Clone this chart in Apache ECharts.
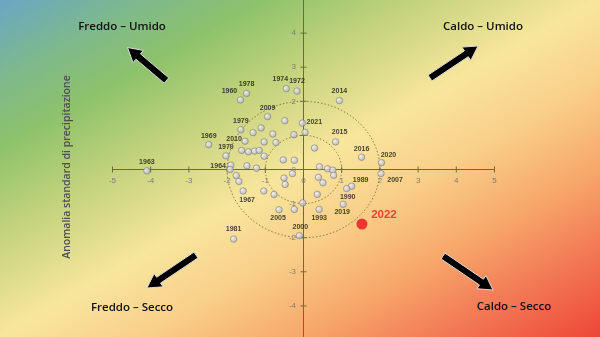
<!DOCTYPE html>
<html><head><meta charset="utf-8">
<script src="https://cdn.jsdelivr.net/npm/echarts@6.0.0/dist/echarts.min.js"></script>
<style>html,body{margin:0;padding:0;background:#fff;overflow:hidden}#c{position:absolute;left:0;top:-1px;width:600px;height:341px}</style>
</head><body><div id="c"></div>
<script>
// ---- data (standardised anomalies: temperature on x, precipitation on y) ----
const labeledYears = [1960,1978,1974,1972,2014,2009,2021,1979,2015,1969,2010,1970,2016,2020,1963,1964,2007,1989,1990,1967,2019,2005,1993,2000,1981];
const labeledTemp  = [-1.65,-1.49,-0.45,-0.17,0.94,-0.94,-0.03,-1.64,0.84,-2.48,-1.53,-2.03,1.52,2.04,-4.10,-1.92,2.03,1.26,1.13,-1.58,1.04,-0.64,0.41,-0.11,-1.83];
const labeledPrec  = [2.04,2.23,2.37,2.30,2.02,1.55,1.36,1.17,0.81,0.73,0.83,0.40,0.36,0.20,-0.04,0.00,-0.12,-0.49,-0.56,-0.63,-1.02,-1.18,-1.17,-1.94,-2.04];
const otherTemp = [-0.49,0.04,-0.25,-1.11,-1.32,-0.80,-0.72,-1.03,0.29,-1.62,-1.44,-1.28,-1.16,-1.03,-0.53,-0.24,-1.90,-1.48,-1.23,0.42,0.63,0.77,0.79,0.39,0.51,-0.29,-0.51,-0.48,-1.76,-1.69,-1.04,-0.77,0.36,-0.02,-0.24];
const otherPrec = [1.43,1.09,1.02,1.22,1.08,1.04,0.79,0.81,0.63,0.56,0.52,0.54,0.56,0.39,0.28,0.27,0.13,0.11,0.04,0.08,0.02,-0.02,-0.17,-0.23,-0.39,-0.12,-0.25,-0.44,-0.18,-0.35,-0.63,-0.73,-0.73,-0.98,-1.17];
const highlightYear = [2022];
const highlightTemp = [1.53];
const highlightPrec = [-1.60];
const ringRadii = [1, 2];
const xTickValues = [-5,-4,-3,-2,-1,0,1,2,3,4,5];
const yTickValues = [-4,-3,-2,-1,0,1,2,3,4];
const quadrantNames = ['Freddo \u2013 Umido','Caldo \u2013 Umido','Freddo \u2013 Secco','Caldo \u2013 Secco'];
const yTitle = 'Anomalia standard di precipitazione';

// ---- layout / style (not data) ----
const labelOffsets = {
  1960:[-11,-9],1978:[0,-9],1974:[-6,-10],1972:[0,-10],2014:[0,-10],2009:[0,-9],2021:[12,-1],
  1979:[0,-9],2015:[4,-10],1969:[0,-9],2010:[-11,-2],1970:[0,-9],2016:[0,-8],2020:[7,-8],
  1963:[0,-9],1964:[-12,-3],2007:[14,6],1989:[9,-6],1990:[1,8],1967:[4,9],2019:[-1,8],
  2005:[-1,8],1993:[0,9],2000:[1,-9],1981:[0,-10]
};
const pointStyle = {
  color:{type:'radial',x:0.35,y:0.35,r:0.75,colorStops:[{offset:0,color:'#f4f4f6'},{offset:1,color:'#a6a6b0'}]},
  borderColor:'#767680',borderWidth:0.7
};
const axisColor = '#6f6a3c';
const tickFont = {fontSize:8,fill:'#7d7d7d',fontFamily:'Liberation Sans'};
const DY = 1; // container is shifted up by 1px

function arrow(tail, tip){
  const sw=7, hw=16, hl=14;
  const t=[tail[0],tail[1]+DY], h=[tip[0],tip[1]+DY];
  const dx=h[0]-t[0], dy=h[1]-t[1], L=Math.hypot(dx,dy);
  const ux=dx/L, uy=dy/L, px=-uy, py=ux;
  const bx=h[0]-ux*hl, by=h[1]-uy*hl;
  const pts=[
    [t[0]+px*sw/2, t[1]+py*sw/2],[bx+px*sw/2, by+py*sw/2],[bx+px*hw/2, by+py*hw/2],
    h,[bx-px*hw/2, by-py*hw/2],[bx-px*sw/2, by-py*sw/2],[t[0]-px*sw/2, t[1]-py*sw/2]
  ];
  return {type:'polygon',z:50,silent:true,shape:{points:pts},style:{fill:'#000',stroke:'#dcdcdc',lineWidth:1}};
}
function qText(txt,x,y){
  return {type:'text',z:50,silent:true,x:x,y:y+DY,style:{text:txt,fontSize:11.5,fontWeight:600,fontFamily:'Open Sans',fill:'#111',align:'center',verticalAlign:'middle'}};
}

const chart = echarts.init(document.getElementById('c'), null, {renderer:'canvas'});

const labeledData = labeledYears.map((y,i)=>({
  value:[labeledTemp[i], labeledPrec[i], y],
  label:{show:true, formatter:String(y), offset:labelOffsets[y]||[0,-9]}
}));

// crossing tick marks + tick labels drawn through the axis scales
const tickData = xTickValues.map(v=>[v,0,0]).concat(yTickValues.map(v=>[0,v,1]));

const option = {
  animation:false,
  graphic:[
    {type:'rect',z:-100,silent:true,shape:{x:0,y:0,width:600,height:341},
     style:{fill:{type:'linear',global:true,x:0,y:0,x2:287.7,y2:512.3,colorStops:[
       {offset:0,color:'#69a6c6'},{offset:0.12,color:'#7db98c'},{offset:0.22,color:'#8dc26b'},
       {offset:0.35,color:'#c3d37c'},{offset:0.5,color:'#f8e69d'},{offset:0.62,color:'#f9cf89'},
       {offset:0.75,color:'#f7a76a'},{offset:0.88,color:'#f27452'},{offset:1,color:'#ee4738'}]}}},
    arrow([166.5,80.5],[127.5,47.5]),
    arrow([430,78],[478,46]),
    arrow([196,255],[147,288]),
    arrow([443,256],[493,290]),
    qText(quadrantNames[0],122,27),
    qText(quadrantNames[1],483,27),
    qText(quadrantNames[2],132,308),
    qText(quadrantNames[3],514,307),
    {type:'text',z:50,silent:true,x:67,y:167+DY,rotation:Math.PI/2,style:{text:yTitle,fontSize:10.5,fontWeight:600,fontFamily:'Open Sans',fill:'#4f4f4f',align:'center',verticalAlign:'middle'}}
  ],
  grid:{left:112.5,right:105.5,top:0,bottom:0,containLabel:false,outerBoundsMode:'none'},
  xAxis:{type:'value',min:-5,max:5,interval:1,splitLine:{show:false},
     axisLine:{onZero:true,lineStyle:{color:axisColor,width:1}},
     axisTick:{show:false},axisLabel:{show:false}},
  yAxis:{type:'value',min:-5,max:5,interval:1,splitLine:{show:false},
     axisLine:{onZero:true,lineStyle:{color:axisColor,width:1}},
     axisTick:{show:false},axisLabel:{show:false}},
  series:[
    {type:'custom',clip:false,silent:true,z:1,
     data:ringRadii.map(r=>[r,0]),encode:{x:0,y:1},
     renderItem:function(params,api){
       const r=api.value(0); const pts=[];
       for(let i=0;i<=180;i++){const a=i/180*2*Math.PI; pts.push(api.coord([r*Math.cos(a), r*Math.sin(a)]));}
       return {type:'polyline',shape:{points:pts},style:{stroke:'#877a3e',lineWidth:1,lineDash:[1.5,2],fill:null}};
     }},
    {type:'custom',clip:false,silent:true,z:1,
     data:tickData,encode:{x:0,y:1},
     renderItem:function(params,api){
       const xv=api.value(0), yv=api.value(1);
       const p=api.coord([xv,yv]); const isY=api.value(2)===1;
       const s = isY ? {x1:p[0]-3,y1:p[1],x2:p[0]+3,y2:p[1]} : {x1:p[0],y1:p[1]-3,x2:p[0],y2:p[1]+3};
       const txt = isY
         ? {type:'text',x:p[0]-7.5,y:p[1],style:Object.assign({text:String(yv),align:'right',verticalAlign:'middle'},tickFont)}
         : {type:'text',x:p[0],y:p[1]+11.7,style:Object.assign({text:String(xv),align:'center',verticalAlign:'middle'},tickFont)};
       return {type:'group',children:[{type:'line',shape:s,style:{stroke:axisColor,lineWidth:1}},txt]};
     }},
    {type:'scatter',z:3,symbolSize:6.5,itemStyle:pointStyle,
     data:otherTemp.map((t,i)=>[t,otherPrec[i]])},
    {type:'scatter',z:4,symbolSize:6.5,itemStyle:pointStyle,
     label:{position:'inside',fontSize:7,fontWeight:'bold',color:'#151515',fontFamily:'Liberation Sans'},
     data:labeledData},
    {type:'scatter',z:5,symbolSize:11,itemStyle:{color:'#e8121a'},
     label:{show:true,position:'inside',offset:[22,-9],fontSize:11.5,fontWeight:'bold',color:'#e3201b',fontFamily:'Liberation Sans',formatter:p=>String(p.value[2])},
     data:highlightYear.map((y,i)=>[highlightTemp[i],highlightPrec[i],y])}
  ]
};
chart.setOption(option);
</script></body></html>
